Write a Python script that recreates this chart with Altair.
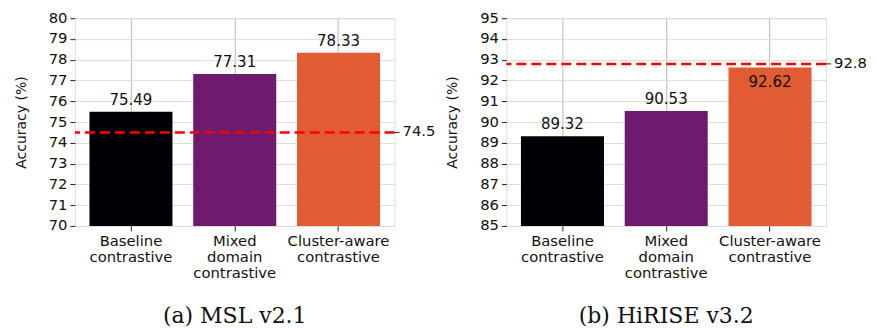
import altair as alt
import pandas as pd

methods = ["Baseline contrastive", "Mixed domain contrastive", "Cluster-aware contrastive"]
colors = ["#000004", "#6e1a6e", "#e25c33"]

msl_acc = [75.49, 77.31, 78.33]
msl_ref = 74.5
msl_domain = [70, 80]
msl_caption = "(a) MSL v2.1"

hirise_acc = [89.32, 90.53, 92.62]
hirise_ref = 92.8
hirise_domain = [85, 95]
hirise_caption = "(b) HiRISE v3.2"

FONT = "DejaVu Sans"
W, H = 320, 208
TICK_FS = 14.8
VAL_FS = 15


def panel(values, ref, domain, caption):
    df = pd.DataFrame({"method": methods, "acc": values, "ref": [ref] * len(values)})
    ref_df = pd.DataFrame({"acc": [ref]})
    x = alt.X(
        "method:N",
        sort=methods,
        scale=alt.Scale(paddingInner=0.2, paddingOuter=0.14),
        axis=alt.Axis(
            title=None, labelAngle=0, labelExpr="split(datum.value, ' ')",
            grid=True, gridColor="#b8b8b8", bandPosition=0.5,
            tickSize=5, tickColor="#222", labelPadding=3, labelFontSize=TICK_FS,
            labelLineHeight=15.8, labelColor="#111", labelFont=FONT, domain=False,
            labelOverlap=False,
        ),
    )
    ticks = list(range(domain[0], domain[1] + 1))
    y = alt.Y(
        "acc:Q",
        scale=alt.Scale(domain=domain, zero=False, nice=False),
        axis=alt.Axis(
            title="Accuracy (%)", values=ticks, tickCount=len(ticks) + 5, format="d",
            grid=True, gridColor="#dcdcdc", tickSize=5, tickColor="#222",
            labelPadding=3, labelFontSize=TICK_FS, labelColor="#111", labelFont=FONT,
            labelOverlap=False,
            titleFont=FONT, titleFontSize=14, titleFontWeight="normal",
            titleColor="#111", titlePadding=20, domain=False,
        ),
    )
    base = alt.Chart(df)
    bars = base.mark_bar().encode(
        x=x, y=y, y2=alt.datum(domain[0]),
        color=alt.Color("method:N", scale=alt.Scale(domain=methods, range=colors), legend=None),
    )
    above = base.transform_filter(
        "!(datum.acc < datum.ref && datum.ref - datum.acc < 0.8)"
    ).mark_text(baseline="bottom", dy=-4, fontSize=VAL_FS, font=FONT, color="#111").encode(
        x=x, y=y, text=alt.Text("acc:Q", format=".2f")
    )
    inside = base.transform_filter(
        "datum.acc < datum.ref && datum.ref - datum.acc < 0.8"
    ).mark_text(baseline="top", dy=7, fontSize=VAL_FS, font=FONT, color="#111").encode(
        x=x, y=y, text=alt.Text("acc:Q", format=".2f")
    )
    refline = alt.Chart(ref_df).mark_rule(
        color="#ff0000", strokeDash=[10, 5], strokeWidth=2.5
    ).encode(y=y)
    reftick = alt.Chart(ref_df).mark_rule(
        color="#222", strokeWidth=1
    ).encode(x=alt.value(W), x2=alt.value(W + 5), y=y)
    reftext = alt.Chart(ref_df).mark_text(
        align="left", baseline="middle", fontSize=TICK_FS, font=FONT, color="#111"
    ).encode(x=alt.value(W + 8), y=y, text=alt.Text("acc:Q", format=".1f"))

    return alt.layer(bars, refline, above, inside, reftick, reftext).properties(
        width=W, height=H,
        title=alt.TitleParams(
            caption, orient="bottom", font="DejaVu Serif", fontSize=22,
            fontWeight="normal", color="#111", offset=26, anchor="middle",
        ),
    )


chart = alt.hconcat(
    panel(msl_acc, msl_ref, msl_domain, msl_caption),
    panel(hirise_acc, hirise_ref, hirise_domain, hirise_caption),
    spacing=8,
).properties(
    padding={"left": 5, "top": 1, "right": 0, "bottom": 0}
).configure_view(stroke="#222", strokeWidth=1).configure(background="white")

chart.save("out.html", embed_options={"renderer": "svg", "actions": False})
